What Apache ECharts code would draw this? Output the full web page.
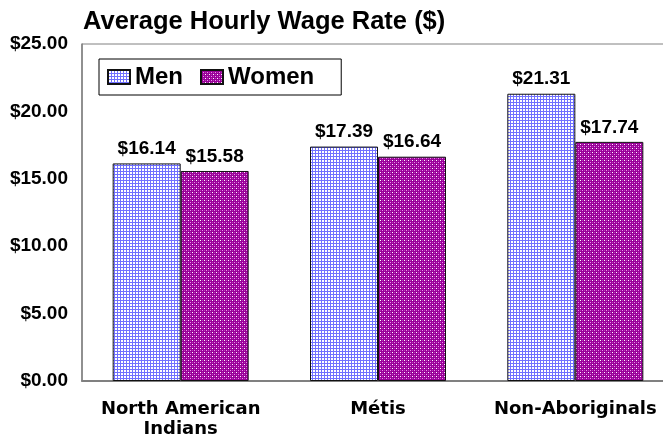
<!DOCTYPE html>
<html>
<head>
<meta charset="utf-8">
<script src="https://cdn.jsdelivr.net/npm/echarts@6/dist/echarts.min.js"></script>
<style>
  html, body { margin: 0; padding: 0; background: #fff; }
  #chart { width: 663px; height: 437px; }
</style>
</head>
<body>
<div id="chart"></div>
<script>
const categories = ['North American\nIndians', 'Métis', 'Non-Aboriginals']
const men = [16.14, 17.39, 21.31]
const women = [15.58, 16.64, 17.74]
const yTicks = [0, 5, 10, 15, 20, 25]

// small canvas tiles used as fill patterns
const makeTile = (size, draw) => {
  const c = document.createElement('canvas')
  c.width = size; c.height = size
  draw(c.getContext('2d'))
  return c
}

const menTile = makeTile(3, (g) => {
  g.fillStyle = '#ffffff'; g.fillRect(0, 0, 3, 3)
  g.fillStyle = '#7070ff'
  g.fillRect(0, 0, 3, 1)
  g.fillRect(0, 0, 1, 3)
})

const womenTile = makeTile(4, (g) => {
  g.fillStyle = '#990099'; g.fillRect(0, 0, 4, 4)
  g.fillStyle = '#ffffff'; g.fillRect(0, 0, 1, 1)
  g.fillStyle = '#ee88ee'; g.fillRect(2, 2, 1, 1)
  g.fillStyle = '#b540b5'; g.fillRect(2, 0, 1, 1); g.fillRect(0, 2, 1, 1)
})

const labelFont = { fontFamily: 'Liberation Sans', fontWeight: 'bold', color: '#000' }
const money = (v) => '$' + v.toFixed(2)

const chart = echarts.init(document.getElementById('chart'), null, { renderer: 'canvas' })

chart.setOption({
  animation: false,
  title: {
    text: 'Average Hourly Wage Rate ($)',
    left: 83, top: 9, padding: 0,
    textStyle: { ...labelFont, fontSize: 25.5 }
  },
  legend: {
    left: 99, top: 59,
    padding: [6, 27, 6, 8],
    borderColor: '#000', borderWidth: 1,
    icon: 'rect',
    itemWidth: 22, itemHeight: 14, itemGap: 17,
    textStyle: { ...labelFont, fontSize: 24 },
    data: ['Men', 'Women']
  },
  grid: {
    left: 82, top: 44, width: 592, height: 337,
    outerBoundsMode: 'none',
    show: true, borderColor: '#808080', borderWidth: 1
  },
  xAxis: {
    type: 'category',
    data: categories,
    axisTick: { show: false },
    axisLine: { lineStyle: { color: '#808080', width: 2 } },
    axisLabel: { fontFamily: 'DejaVu Sans', fontWeight: 'bold', color: '#000', fontSize: 18, lineHeight: 20, margin: 18, interval: 0 }
  },
  yAxis: {
    type: 'value',
    min: yTicks[0], max: yTicks[yTicks.length - 1], interval: 5,
    splitLine: { show: false },
    axisTick: { show: false },
    axisLine: { show: true, lineStyle: { color: '#808080', width: 1.5 } },
    axisLabel: { ...labelFont, fontSize: 19, margin: 14, formatter: money }
  },
  series: [
    {
      name: 'Men', type: 'bar', data: men,
      barWidth: 68, barGap: '0%',
      itemStyle: { color: { image: menTile, repeat: 'repeat' }, borderColor: '#111', borderWidth: 1 },
      label: { show: true, position: 'top', distance: 5, ...labelFont, fontSize: 19, formatter: (p) => money(p.value) }
    },
    {
      name: 'Women', type: 'bar', data: women,
      barWidth: 68,
      itemStyle: { color: { image: womenTile, repeat: 'repeat' }, borderColor: '#111', borderWidth: 1 },
      label: { show: true, position: 'top', distance: 5, ...labelFont, fontSize: 19, formatter: (p) => money(p.value) }
    }
  ]
})
</script>
</body>
</html>
